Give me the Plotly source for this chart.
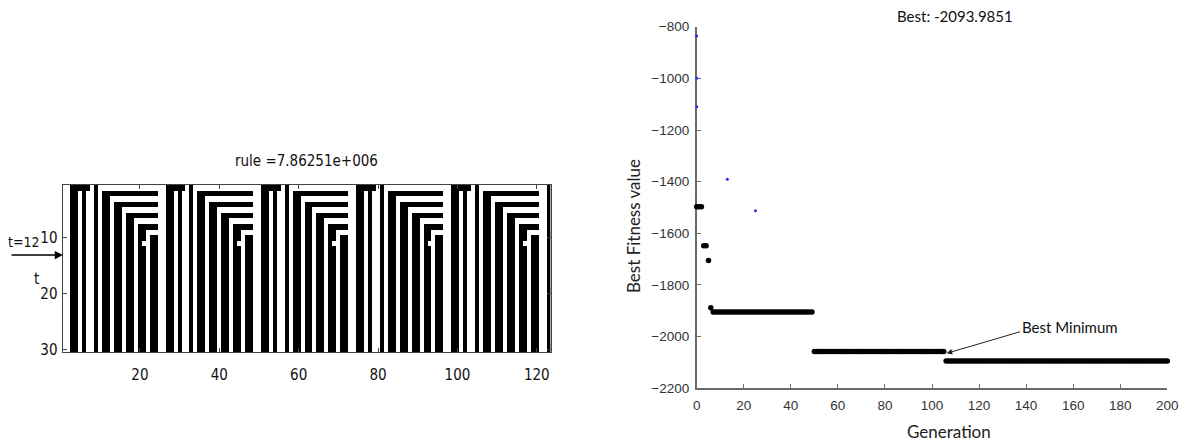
import plotly.graph_objects as go

# ---- left panel: cellular automaton space-time diagram ('#' = 1 black, '.' = 0 white)
ca_rows = [
    ".." "#####.#................." "#####.#................." "#####.#................." "#####.#................." "#####.#................." "#",
    ".." "##.#..#.##############.." "##.#..#.##############.." "##.#..#.##############.." "##.#..#.##############.." "##.#..#.##############.." "#",
    ".." "##.#..#.##.............." "##.#..#.##.............." "##.#..#.##.............." "##.#..#.##.............." "##.#..#.##.............." "#",
    ".." "##.#..#.##.###########.." "##.#..#.##.###########.." "##.#..#.##.###########.." "##.#..#.##.###########.." "##.#..#.##.###########.." "#",
    ".." "##.#..#.##.##..........." "##.#..#.##.##..........." "##.#..#.##.##..........." "##.#..#.##.##..........." "##.#..#.##.##..........." "#",
    ".." "##.#..#.##.##.########.." "##.#..#.##.##.########.." "##.#..#.##.##.########.." "##.#..#.##.##.########.." "##.#..#.##.##.########.." "#",
    ".." "##.#..#.##.##.##........" "##.#..#.##.##.##........" "##.#..#.##.##.##........" "##.#..#.##.##.##........" "##.#..#.##.##.##........" "#",
    ".." "##.#..#.##.##.##.#####.." "##.#..#.##.##.##.#####.." "##.#..#.##.##.##.#####.." "##.#..#.##.##.##.#####.." "##.#..#.##.##.##.#####.." "#",
    ".." "##.#..#.##.##.##.##....." "##.#..#.##.##.##.##....." "##.#..#.##.##.##.##....." "##.#..#.##.##.##.##....." "##.#..#.##.##.##.##....." "#",
    ".." "##.#..#.##.##.##.##.##.." "##.#..#.##.##.##.##.##.." "##.#..#.##.##.##.##.##.." "##.#..#.##.##.##.##.##.." "##.#..#.##.##.##.##.##.." "#",
    ".." "##.#..#.##.##.##.#..##.." "##.#..#.##.##.##.#..##.." "##.#..#.##.##.##.#..##.." "##.#..#.##.##.##.#..##.." "##.#..#.##.##.##.#..##.." "#",
]
steady_row = ".." "##.#..#.##.##.##.##.##.." "##.#..#.##.##.##.##.##.." "##.#..#.##.##.##.##.##.." "##.#..#.##.##.##.##.##.." "##.#..#.##.##.##.##.##.." "#"
ca_rows += [steady_row] * 19          # t = 12 ... 30 settle into fixed stripes

n_cells = 123
rule_label = "rule =7.86251e+006"
t_marker = "t=12"
cell_ticks = [20, 40, 60, 80, 100, 120]
time_ticks = [10, 20, 30]

# ---- right panel: GA best fitness per generation (step levels)
level_start = [0, 3, 5, 6, 7, 50, 106]
level_end = [2, 4, 5, 6, 49, 105, 200]
level_value = [-1497, -1648, -1705, -1888, -1905, -2058, -2093.9851]
mean_gen = [0, 0, 0, 13, 25]
mean_val = [-836, -1000, -1110, -1391, -1513]
gen_ticks = list(range(0, 201, 20))
fit_ticks = list(range(-2200, -799, 200))
best_text = "Best: -2093.9851"

z = [[1 if ch == "#" else 0 for ch in row.ljust(n_cells, ".")[:n_cells]] for row in ca_rows]

best_gen, best_val = [], []
for s, e, v in zip(level_start, level_end, level_value):
    for g in range(s, e + 1):
        best_gen.append(g)
        best_val.append(v)

W, H = 1180, 441
def px(x):
    return x / W
def py(y):
    return 1 - y / H

narrow = "DejaVu Sans Condensed, Liberation Sans Narrow, Arial Narrow, sans-serif"
arial = "Liberation Sans, Arial, sans-serif"
calib = "Lato, Carlito, Calibri, sans-serif"

fig = go.Figure()
fig.add_trace(go.Heatmap(
    z=z, x=list(range(1, n_cells + 1)), y=list(range(1, len(ca_rows) + 1)),
    colorscale=[[0, "#ffffff"], [1, "#000000"]], zmin=0, zmax=1,
    showscale=False, hoverinfo="skip", xaxis="x", yaxis="y",
))
fig.add_trace(go.Scatter(
    x=mean_gen, y=mean_val, mode="markers", cliponaxis=False,
    marker=dict(size=3, color="#2a2aff"), xaxis="x2", yaxis="y2", hoverinfo="skip",
))
fig.add_trace(go.Scatter(
    x=best_gen, y=best_val, mode="markers", cliponaxis=False,
    marker=dict(size=5.5, color="#000000", line=dict(width=0)),
    xaxis="x2", yaxis="y2", hoverinfo="skip",
))

left_axis = dict(showline=True, linecolor="#444", linewidth=1, mirror="allticks",
                 ticks="inside", ticklen=4, tickcolor="#444", showgrid=False,
                 zeroline=False, tickfont=dict(family=narrow, size=15, color="#111"))
right_axis = dict(showline=True, linecolor="#6a6a6a", linewidth=1.5, mirror=False,
                  ticks="inside", ticklen=5, tickcolor="#6a6a6a", tickwidth=1.3,
                  showgrid=False, zeroline=False, layer="below traces",
                  tickfont=dict(family=arial, size=13.5, color="#333"))

fig.update_layout(
    width=W, height=H, margin=dict(l=0, r=0, t=0, b=0, autoexpand=False),
    paper_bgcolor="white", plot_bgcolor="white", showlegend=False,
    xaxis=dict(domain=[px(62.5), px(550.7)], range=[0.5, n_cells + 0.5],
               tickvals=cell_ticks, anchor="y", ticklabelstandoff=9, **left_axis),
    yaxis=dict(domain=[py(352.3), py(185)], range=[30.5, 0.5],
               tickvals=time_ticks, anchor="x", ticklabelstandoff=1, **left_axis),
    xaxis2=dict(domain=[px(696.7), px(1167.3)], range=[0, 200],
                tickvals=gen_ticks, anchor="y2", ticklabelstandoff=4, **right_axis),
    yaxis2=dict(domain=[py(388.3), py(26.7)], range=[-2200, -800],
                tickvals=fit_ticks, anchor="x2", ticklabelstandoff=3, **right_axis),
)

annotations = [
    dict(text=rule_label, x=px(306.6), y=py(161), font=dict(family=narrow, size=15, color="#111")),
    dict(text=t_marker, x=px(24), y=py(242), font=dict(family=narrow, size=14, color="#111")),
    dict(text="t", x=px(36), y=py(279), font=dict(family=narrow, size=15, color="#111")),
    dict(text=best_text, x=px(955), y=py(16), font=dict(family=calib, size=15, color="#111")),
    dict(text="Generation", x=px(949), y=py(431), font=dict(family=calib, size=17, color="#222")),
    dict(text="Best Fitness value", x=px(633), y=py(226), textangle=-90,
         font=dict(family=calib, size=17, color="#222")),
    dict(text="Best Minimum", x=px(1070), y=py(327), font=dict(family=calib, size=15, color="#111")),
]
for a in annotations:
    a.update(xref="paper", yref="paper", xanchor="center", yanchor="middle", showarrow=False)

# arrow pointing at the t=12 row of the diagram
annotations.append(dict(text="", xref="paper", yref="paper", x=px(63), y=py(255),
                        showarrow=True, ax=-53, ay=0, arrowhead=2, arrowsize=1.1,
                        arrowwidth=1.5, arrowcolor="#000"))
# arrow from the "Best Minimum" label to the start of the final level
annotations.append(dict(text="", xref="paper", yref="paper", x=px(946.7), y=py(353.3),
                        showarrow=True, ax=75, ay=-22, arrowhead=2, arrowsize=1.1,
                        arrowwidth=1, arrowcolor="#222"))
fig.update_layout(annotations=annotations)

fig.write_html("out.html")
